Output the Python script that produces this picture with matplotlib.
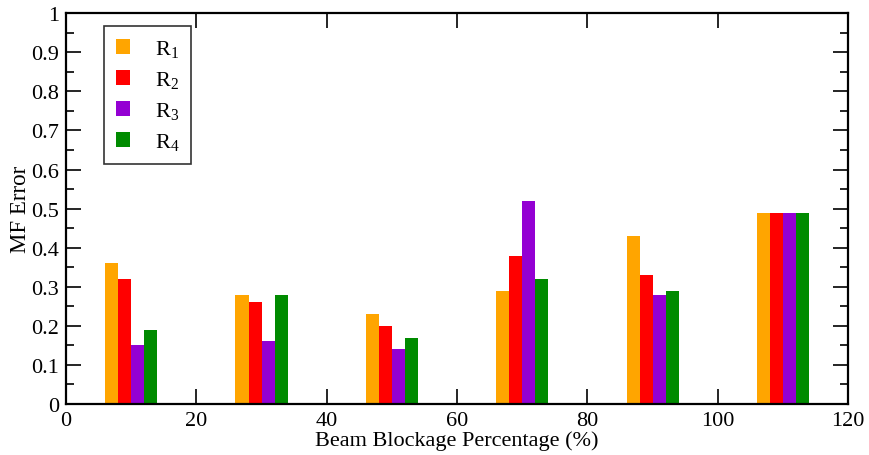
import matplotlib
matplotlib.use("Agg")
import matplotlib.pyplot as plt
from matplotlib.ticker import MultipleLocator
import numpy as np

groups = [10, 30, 50, 70, 90, 110]
r1 = [0.36, 0.28, 0.23, 0.29, 0.43, 0.49]
r2 = [0.32, 0.26, 0.20, 0.38, 0.33, 0.49]
r3 = [0.15, 0.16, 0.14, 0.52, 0.28, 0.49]
r4 = [0.19, 0.28, 0.17, 0.32, 0.29, 0.49]
labels = ["R$_1$", "R$_2$", "R$_3$", "R$_4$"]
colors = ["#ffa500", "#ff0000", "#9400d3", "#008b00"]

plt.rcParams['font.family'] = ['Liberation Serif', 'DejaVu Serif']
plt.rcParams['mathtext.fontset'] = 'custom'
plt.rcParams['mathtext.rm'] = 'Liberation Serif'
plt.rcParams['mathtext.it'] = 'Liberation Serif'

fig = plt.figure(figsize=(8.7, 4.56), dpi=100)
ax = fig.add_axes([0.0759, 0.1118, 0.899, 0.857])

x = np.array(groups)
w = 2
for i, vals in enumerate([r1, r2, r3, r4]):
    ax.bar(x - 3 + i * w, vals, width=w, color=colors[i], label=labels[i])

ax.set_xlim(0, 120)
ax.set_ylim(0, 1)
ax.xaxis.set_major_locator(MultipleLocator(20))
ax.yaxis.set_major_locator(MultipleLocator(0.1))
ax.yaxis.set_minor_locator(MultipleLocator(0.05))
ax.yaxis.set_major_formatter(plt.FuncFormatter(lambda v, p: "%g" % round(v, 2)))
ax.tick_params(which='both', direction='in', top=True, right=True, labelsize=16, width=1.2)
ax.tick_params(which='major', length=11, pad=5)
ax.tick_params(which='minor', length=6)
for s in ax.spines.values():
    s.set_linewidth(1.6)

ax.set_xlabel('Beam Blockage Percentage (%)', fontsize=16, labelpad=0)
ax.set_ylabel('MF Error', fontsize=16.5, labelpad=0)

leg = ax.legend(loc='upper left', bbox_to_anchor=(0.048, 0.968), fontsize=16,
                frameon=True, fancybox=False, edgecolor='black',
                handlelength=0.65, handleheight=0.65, handletextpad=1.1,
                labelspacing=0.45, borderpad=0.55, borderaxespad=0)
leg.get_frame().set_linewidth(1.2)

fig.savefig('out.png', dpi=100)
